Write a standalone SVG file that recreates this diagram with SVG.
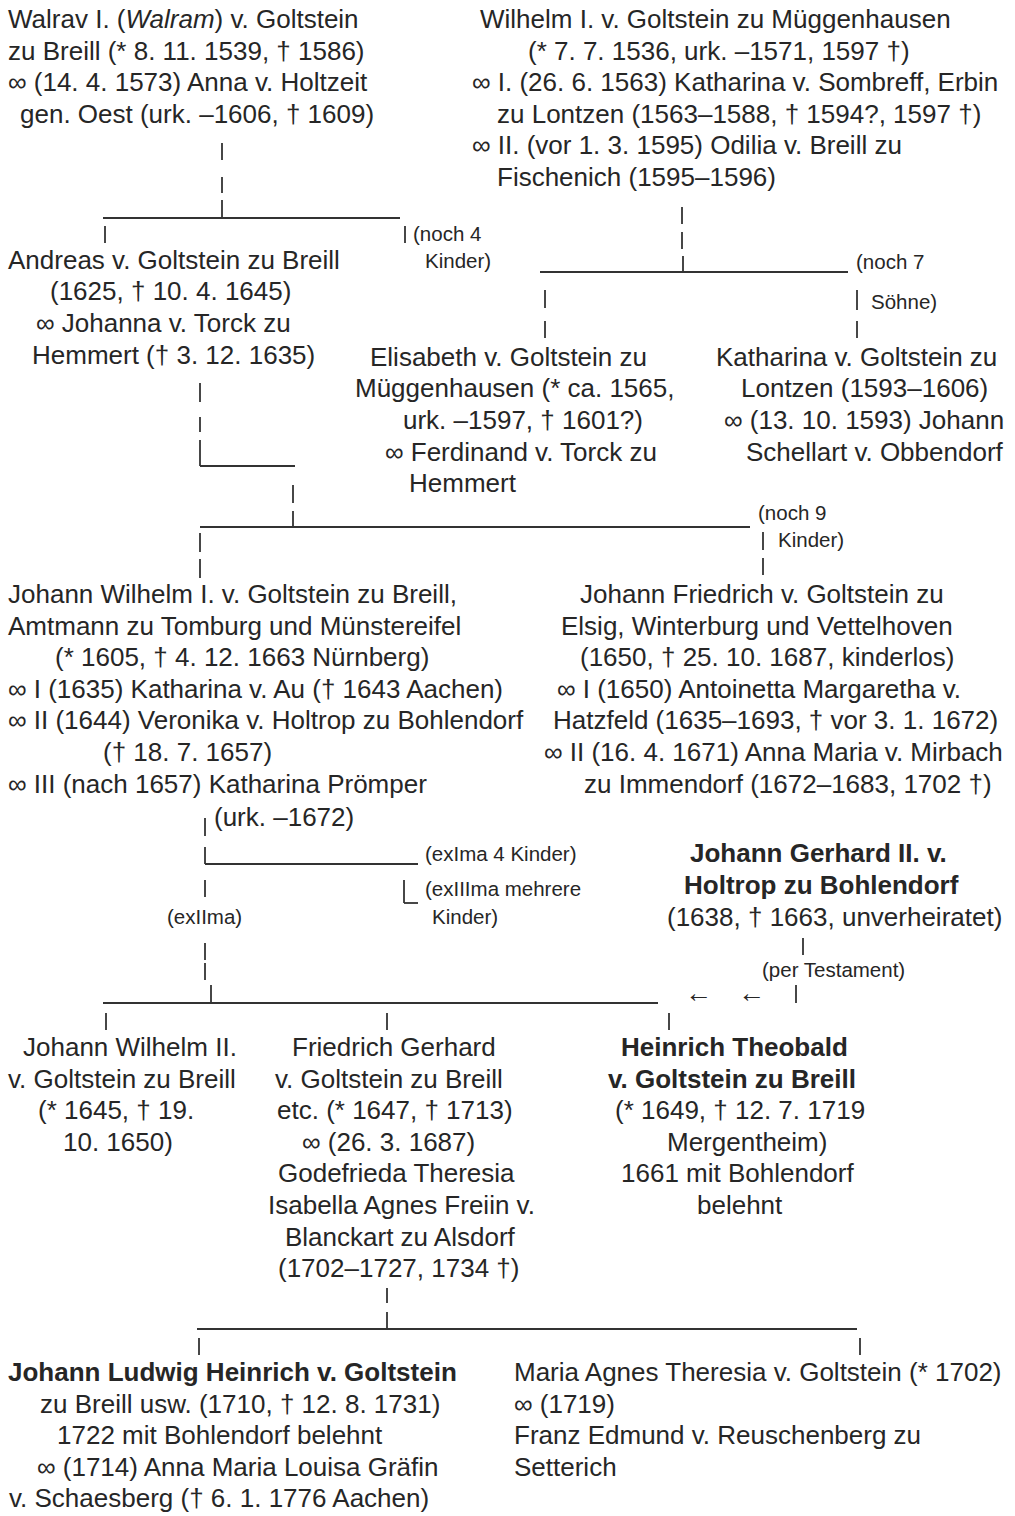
<svg xmlns="http://www.w3.org/2000/svg" width="1015" height="1516" viewBox="0 0 1015 1516">
<style>
text{font-family:"Liberation Sans",Arial,"DejaVu Sans",sans-serif;font-size:26px;fill:#262626}
.s{font-size:20.5px}
.b{font-weight:bold}
.a{font-size:27px}
.c line{stroke:#333;stroke-width:1.8;fill:none}
</style>
<rect x="0" y="0" width="1015" height="1516" fill="#ffffff"/>

<g id="connectors" class="c">
<!-- Walrav -->
<line x1="222" y1="143" x2="222" y2="160"/>
<line x1="222" y1="177" x2="222" y2="193"/>
<line x1="222" y1="200" x2="222" y2="218"/>
<line x1="103" y1="218" x2="400" y2="218"/>
<line x1="105" y1="226" x2="105" y2="243"/>
<line x1="405" y1="226" x2="405" y2="243"/>
<!-- Wilhelm -->
<line x1="682" y1="207" x2="682" y2="224"/>
<line x1="682" y1="232" x2="682" y2="249"/>
<line x1="683" y1="256" x2="683" y2="272"/>
<line x1="540" y1="272" x2="848" y2="272"/>
<line x1="545" y1="290" x2="545" y2="308"/>
<line x1="545" y1="321" x2="545" y2="338"/>
<line x1="857" y1="290" x2="857" y2="310"/>
<line x1="857" y1="321" x2="857" y2="338"/>
<!-- Andreas -->
<line x1="200" y1="383" x2="200" y2="402"/>
<line x1="200" y1="417" x2="200" y2="432"/>
<line x1="200" y1="440" x2="200" y2="466"/>
<line x1="200" y1="466" x2="295" y2="466"/>
<line x1="293" y1="485" x2="293" y2="503"/>
<line x1="293" y1="511" x2="293" y2="527"/>
<line x1="200" y1="527" x2="750" y2="527"/>
<line x1="200" y1="533" x2="200" y2="552"/>
<line x1="200" y1="559" x2="200" y2="578"/>
<line x1="763" y1="532" x2="763" y2="550"/>
<line x1="763" y1="558" x2="763" y2="575"/>
<!-- Johann Wilhelm I -->
<line x1="205" y1="818" x2="205" y2="836"/>
<line x1="205" y1="847" x2="205" y2="864"/>
<line x1="205" y1="864" x2="418" y2="864"/>
<line x1="205" y1="880" x2="205" y2="897"/>
<line x1="404" y1="880" x2="404" y2="903"/>
<line x1="404" y1="903" x2="418" y2="903"/>
<line x1="205" y1="943" x2="205" y2="960"/>
<line x1="205" y1="963" x2="205" y2="980"/>
<line x1="211" y1="985" x2="211" y2="1003"/>
<line x1="103" y1="1003" x2="658" y2="1003"/>
<line x1="106" y1="1013" x2="106" y2="1030"/>
<line x1="387" y1="1013" x2="387" y2="1030"/>
<line x1="669" y1="1013" x2="669" y2="1030"/>
<!-- Johann Gerhard -->
<line x1="803" y1="938" x2="803" y2="955"/>
<line x1="796" y1="985" x2="796" y2="1003"/>
<!-- Friedrich Gerhard -->
<line x1="387" y1="1288" x2="387" y2="1303"/>
<line x1="387" y1="1312" x2="387" y2="1329"/>
<line x1="197" y1="1329" x2="857" y2="1329"/>
<line x1="199" y1="1338" x2="199" y2="1355"/>
<line x1="860" y1="1338" x2="860" y2="1355"/>
</g>

<g id="notes">
<text class="s" x="413" y="241">(noch 4</text>
<text class="s" x="425" y="268">Kinder)</text>
<text class="s" x="856" y="269">(noch 7</text>
<text class="s" x="871" y="309">Söhne)</text>
<text class="s" x="758" y="520">(noch 9</text>
<text class="s" x="778" y="547">Kinder)</text>
<text class="s" x="425" y="861">(exIma 4 Kinder)</text>
<text class="s" x="425" y="896">(exIIIma mehrere</text>
<text class="s" x="432" y="924">Kinder)</text>
<text class="s" x="167" y="924">(exIIma)</text>
<text class="s" x="762" y="977">(per Testament)</text>
<text class="a" x="685" y="1002">←</text>
<text class="a" x="738" y="1002">←</text>
</g>

<g id="walrav">
<text x="8" y="28">Walrav I. (<tspan font-style="italic">Walram</tspan>) v. Goltstein</text>
<text x="8" y="60">zu Breill (* 8. 11. 1539, † 1586)</text>
<text x="8" y="91">∞ (14. 4. 1573) Anna v. Holtzeit</text>
<text x="20" y="123">gen. Oest (urk. –1606, † 1609)</text>
</g>

<g id="wilhelm">
<text x="480" y="28">Wilhelm I. v. Goltstein zu Müggenhausen</text>
<text x="528" y="60">(* 7. 7. 1536, urk. –1571, 1597 †)</text>
<text x="472" y="91">∞ I. (26. 6. 1563) Katharina v. Sombreff, Erbin</text>
<text x="497" y="123">zu Lontzen (1563–1588, † 1594?, 1597 †)</text>
<text x="472" y="154">∞ II. (vor 1. 3. 1595) Odilia v. Breill zu</text>
<text x="497" y="186">Fischenich (1595–1596)</text>
</g>

<g id="andreas">
<text x="8" y="269">Andreas v. Goltstein zu Breill</text>
<text x="50" y="300">(1625, † 10. 4. 1645)</text>
<text x="36" y="332">∞ Johanna v. Torck zu</text>
<text x="32" y="364">Hemmert († 3. 12. 1635)</text>
</g>

<g id="elisabeth">
<text x="370" y="366">Elisabeth v. Goltstein zu</text>
<text x="355" y="397">Müggenhausen (* ca. 1565,</text>
<text x="403" y="429">urk. –1597, † 1601?)</text>
<text x="385" y="461">∞ Ferdinand v. Torck zu</text>
<text x="409" y="492">Hemmert</text>
</g>

<g id="katharina">
<text x="716" y="366">Katharina v. Goltstein zu</text>
<text x="741" y="397">Lontzen (1593–1606)</text>
<text x="724" y="429">∞ (13. 10. 1593) Johann</text>
<text x="746" y="461">Schellart v. Obbendorf</text>
</g>

<g id="johann-wilhelm-1">
<text x="8" y="603">Johann Wilhelm I. v. Goltstein zu Breill,</text>
<text x="8" y="635">Amtmann zu Tomburg und Münstereifel</text>
<text x="55" y="666">(* 1605, † 4. 12. 1663 Nürnberg)</text>
<text x="8" y="698">∞ I (1635) Katharina v. Au († 1643 Aachen)</text>
<text x="8" y="729">∞ II (1644) Veronika v. Holtrop zu Bohlendorf</text>
<text x="103" y="761">(† 18. 7. 1657)</text>
<text x="8" y="793">∞ III (nach 1657) Katharina Prömper</text>
<text x="214" y="826">(urk. –1672)</text>
</g>

<g id="johann-friedrich">
<text x="580" y="603">Johann Friedrich v. Goltstein zu</text>
<text x="561" y="635">Elsig, Winterburg und Vettelhoven</text>
<text x="580" y="666">(1650, † 25. 10. 1687, kinderlos)</text>
<text x="557" y="698">∞ I (1650) Antoinetta Margaretha v.</text>
<text x="553" y="729">Hatzfeld (1635–1693, † vor 3. 1. 1672)</text>
<text x="544" y="761">∞ II (16. 4. 1671) Anna Maria v. Mirbach</text>
<text x="584" y="793">zu Immendorf (1672–1683, 1702 †)</text>
</g>

<g id="johann-gerhard-2">
<text class="b" x="690" y="862">Johann Gerhard II. v.</text>
<text class="b" x="684" y="894">Holtrop zu Bohlendorf</text>
<text x="667" y="926">(1638, † 1663, unverheiratet)</text>
</g>

<g id="johann-wilhelm-2">
<text x="23" y="1056">Johann Wilhelm II.</text>
<text x="8" y="1088">v. Goltstein zu Breill</text>
<text x="38" y="1119">(* 1645, † 19.</text>
<text x="63" y="1151">10. 1650)</text>
</g>

<g id="friedrich-gerhard">
<text x="292" y="1056">Friedrich Gerhard</text>
<text x="275" y="1088">v. Goltstein zu Breill</text>
<text x="277" y="1119">etc. (* 1647, † 1713)</text>
<text x="302" y="1151">∞ (26. 3. 1687)</text>
<text x="278" y="1182">Godefrieda Theresia</text>
<text x="268" y="1214">Isabella Agnes Freiin v.</text>
<text x="285" y="1246">Blanckart zu Alsdorf</text>
<text x="278" y="1277">(1702–1727, 1734 †)</text>
</g>

<g id="heinrich-theobald">
<text class="b" x="621" y="1056">Heinrich Theobald</text>
<text class="b" x="608" y="1088">v. Goltstein zu Breill</text>
<text x="615" y="1119">(* 1649, † 12. 7. 1719</text>
<text x="667" y="1151">Mergentheim)</text>
<text x="621" y="1182">1661 mit Bohlendorf</text>
<text x="697" y="1214">belehnt</text>
</g>

<g id="johann-ludwig-heinrich">
<text class="b" x="8" y="1381">Johann Ludwig Heinrich v. Goltstein</text>
<text x="40" y="1413">zu Breill usw. (1710, † 12. 8. 1731)</text>
<text x="57" y="1444">1722 mit Bohlendorf belehnt</text>
<text x="37" y="1476">∞ (1714) Anna Maria Louisa Gräfin</text>
<text x="9" y="1507">v. Schaesberg († 6. 1. 1776 Aachen)</text>
</g>

<g id="maria-agnes-theresia">
<text x="514" y="1381">Maria Agnes Theresia v. Goltstein (* 1702)</text>
<text x="514" y="1413">∞ (1719)</text>
<text x="514" y="1444">Franz Edmund v. Reuschenberg zu</text>
<text x="514" y="1476">Setterich</text>
</g>
</svg>
